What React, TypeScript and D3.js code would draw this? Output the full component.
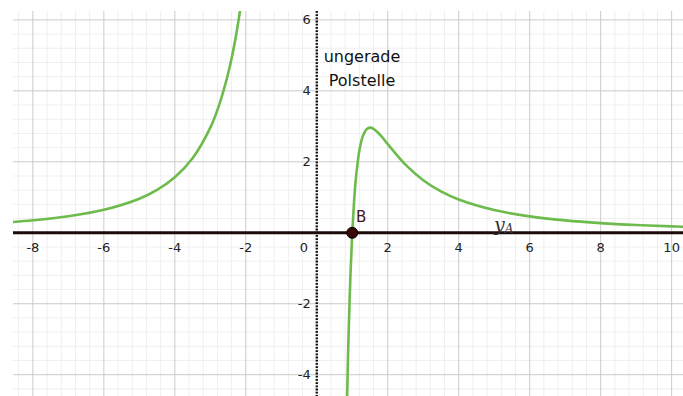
import React from "react";
import * as d3 from "d3";

const W = 683;
const H = 396;

// Domain
const xDomain = [-8.56, 10.32];
const yDomain = [-4.6, 6.25];

const xTickValues = [-8, -6, -4, -2, 0, 2, 4, 6, 8, 10];
const yTickValues = [-4, -2, 2, 4, 6];

// Left branch points (x, y)
const leftX = [-8.6, -8, -7, -6, -5, -4.5, -4, -3.5, -3, -2.75, -2.5, -2.3, -2.15, -2.1];
const leftY = [0.30, 0.352, 0.466, 0.648, 0.96, 1.207, 1.5625, 2.099, 2.963, 3.606, 4.48, 5.42, 6.34, 6.69];

// Right branch points (x, y)
const rightX = [0.84, 0.85, 0.88, 0.9, 0.95, 1.0, 1.05, 1.1, 1.2, 1.3, 1.4, 1.5, 1.6, 1.8, 2.0, 2.5, 3, 3.5, 4, 5, 6, 7, 8, 9, 10, 10.4];
const rightY = [-5.4, -4.89, -3.52, -2.74, -1.17, 0, 0.864, 1.503, 2.315, 2.731, 2.915, 2.963, 2.93, 2.743, 2.5, 1.92, 1.481, 1.166, 0.9375, 0.64, 0.463, 0.35, 0.273, 0.219, 0.18, 0.166];

const pointB = [1, 0];

export default function App() {
  const x = d3.scaleLinear().domain(xDomain).range([13, W]);
  const y = d3.scaleLinear().domain(yDomain).range([H, 11]);

  const minorX = d3.range(-8.4, 10.4, 0.4).filter((v) => Math.abs(Math.round(v / 2) * 2 - v) > 0.01);
  const minorY = d3.range(-4.4, 6.4, 0.4).filter((v) => Math.abs(Math.round(v / 2) * 2 - v) > 0.01);
  const majorX = d3.range(-8, 11, 2);
  const majorY = d3.range(-4, 7, 2);

  const leftPts: [number, number][] = leftX.map((v, i) => [x(v), y(leftY[i])]);
  const rightPts: [number, number][] = rightX.map((v, i) => [x(v), y(rightY[i])]);
  const gen = d3.line().curve(d3.curveCatmullRom.alpha(0.5));

  const font = "'DejaVu Sans', 'Open Sans', sans-serif";

  return (
    <svg width={W} height={H} style={{ position: "absolute", left: 0, top: 0 }} fontFamily={font}>
      <defs>
        <clipPath id="plot">
          <rect x={13} y={11} width={W - 13} height={H - 11} />
        </clipPath>
      </defs>
      <rect x={0} y={0} width={W} height={H} fill="#fff" />
      <g clipPath="url(#plot)">
        {minorX.map((v) => (
          <line key={"mx" + v} x1={x(v)} x2={x(v)} y1={11} y2={H} stroke="#efefef" strokeWidth={1} />
        ))}
        {minorY.map((v) => (
          <line key={"my" + v} y1={y(v)} y2={y(v)} x1={13} x2={W} stroke="#efefef" strokeWidth={1} />
        ))}
        {majorX.map((v) => (
          <line key={"Mx" + v} x1={x(v)} x2={x(v)} y1={11} y2={H} stroke="#cbcbcb" strokeWidth={1} />
        ))}
        {majorY.map((v) => (
          <line key={"My" + v} y1={y(v)} y2={y(v)} x1={13} x2={W} stroke="#cbcbcb" strokeWidth={1} />
        ))}
        <path d={gen(leftPts) || ""} fill="none" stroke="#6dbb4c" strokeWidth={2.6} />
        <path d={gen(rightPts) || ""} fill="none" stroke="#6dbb4c" strokeWidth={2.6} />
        {/* y axis: dotted pole line */}
        <line x1={x(0)} x2={x(0)} y1={11} y2={H} stroke="#111" strokeWidth={2.4} strokeDasharray="1.8,1.4" />
        {/* line y_A along x axis */}
        <line x1={13} x2={W} y1={y(0)} y2={y(0)} stroke="#1c0b0b" strokeWidth={3.2} />
        <circle cx={x(pointB[0])} cy={y(pointB[1])} r={5.5} fill="#3a0707" stroke="#000" strokeWidth={1} />
      </g>
      {xTickValues.map((v) => (
        <text
          key={"xt" + v}
          x={v === 0 ? x(0) - 13 : x(v)}
          y={y(0) + 19}
          textAnchor="middle"
          fontSize={13}
          fill="#222"
        >
          {v < 0 ? "-" + Math.abs(v) : String(v)}
        </text>
      ))}
      {yTickValues.map((v) => (
        <text key={"yt" + v} x={x(0) - 6} y={y(v) + 4.5} textAnchor="end" fontSize={13} fill="#222">
          {v < 0 ? "-" + Math.abs(v) : String(v)}
        </text>
      ))}
      <text x={362} y={62} textAnchor="middle" fontSize={16} fill="#111">
        ungerade
      </text>
      <text x={362} y={86} textAnchor="middle" fontSize={16} fill="#111">
        Polstelle
      </text>
      <text x={356} y={222} fontSize={15} fill="#4a1414">
        B
      </text>
      <text x={494} y={231} fontSize={19} fontStyle="italic" fontFamily="'DejaVu Serif', serif" fill="#333">
        y
        <tspan fontSize={12} dy={2}>
          A
        </tspan>
      </text>
    </svg>
  );
}
